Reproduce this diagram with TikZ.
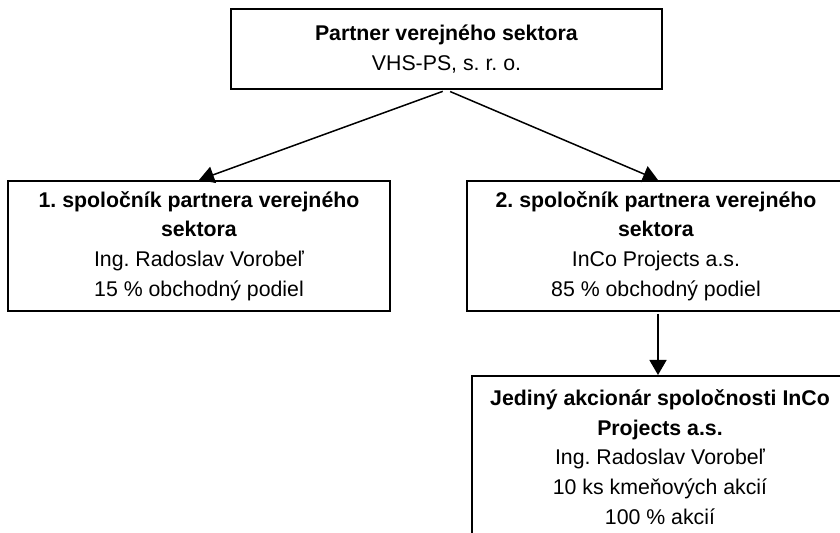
\documentclass[tikz,border=0pt]{standalone}
\usepackage{fontspec}
\setmainfont{Liberation Sans}
\usetikzlibrary{arrows.meta,positioning}
\frenchspacing

\begin{document}
\begin{tikzpicture}[x=0.5pt,y=-0.5pt,>={Triangle[length=7.5pt,width=8.5pt]},
    box/.style={draw,line width=1pt,align=center,inner sep=0pt,
        font=\fontsize{10.65}{14.9}\selectfont},
    link/.style={->,line width=0.75pt}]

\useasboundingbox (0,0) rectangle (840,533);
\clip (0,0) rectangle (840,533);

% owner of the project company
\node [box,minimum width=215.5pt,minimum height=40pt] (partner) at (446.5,49)
    {\textbf{Partner verejného sektora}\\VHS-PS, s. r. o.};

% the two partners
\node [box,minimum width=191pt,minimum height=65pt] (spol1) at (199,246)
    {\textbf{1. spoločník partnera verejného}\\\textbf{sektora}\\
     Ing. Radoslav Vorobeľ\\15 \% obchodný podiel};
\node [box,minimum width=189pt,minimum height=65pt] (spol2) at (656,246)
    {\textbf{2. spoločník partnera verejného}\\\textbf{sektora}\\
     InCo Projects a.s.\\85 \% obchodný podiel};

% shareholder of InCo
\node [box,minimum width=188pt,minimum height=81pt] (akcionar) at (660,457)
    {\textbf{Jediný akcionár spoločnosti InCo}\\\textbf{Projects a.s.}\\
     Ing. Radoslav Vorobeľ\\10 ks kmeňových akcií\\100 \% akcií};

\draw [link,shorten <=2pt] (partner.south) -- (spol1.north);
\draw [link,shorten <=2pt] (partner.south) -- ([xshift=1pt]spol2.north);
\draw [link,shorten <=1pt] ([xshift=1pt]spol2.south) -- ([xshift=1pt]spol2.south |- akcionar.north);

\end{tikzpicture}
\end{document}
